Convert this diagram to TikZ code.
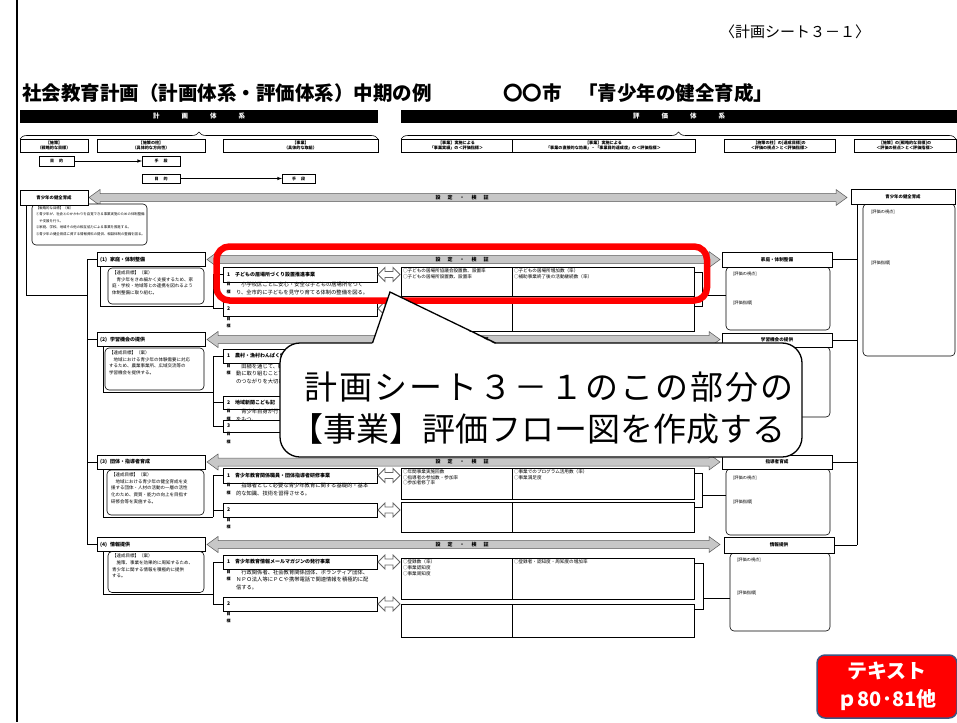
\documentclass[tikz,border=0pt]{standalone}
\usepackage{fontspec}
\setmainfont{Noto Sans CJK JP}
\newfontfamily\cfont[LetterSpace=6.5]{Noto Sans CJK JP}
\usetikzlibrary{decorations.pathreplacing}
\newcommand\fs[2]{\fontsize{#1}{#2}\selectfont}
\tikzset{
  every node/.style={inner sep=0pt,outer sep=0pt},
  bx/.style={draw,line width=0.6pt,fill=white,anchor=north west},
  rbx/.style={draw,line width=0.6pt,fill=white,anchor=north west,rounded corners=4pt},
  ln/.style={line width=0.6pt},
  garrow/.style={draw=black!65,fill=black!22,line width=0.5pt},
  harrow/.style={draw=black!60,fill=white,line width=0.8pt},
  lab/.style={anchor=north west,align=left},
  hdr/.style={bx,align=center,font=\bfseries\fs{4.1}{5}},
}
\newcommand\gbar[4]{% name x1 x2 y
  \draw[garrow] (#2,#4) -- ({#2+11},{#4-8}) -- ({#2+11},{#4-4}) -- ({#3-11},{#4-4}) -- ({#3-11},{#4-8}) -- (#3,#4) -- ({#3-11},{#4+8}) -- ({#3-11},{#4+4}) -- ({#2+11},{#4+4}) -- ({#2+11},{#4+8}) -- cycle;
  \node[font=\bfseries\fs{5}{6}] (#1) at (462,#4) {設\hspace{7pt}定\hspace{7pt}・\hspace{7pt}検\hspace{7pt}証};}
\newcommand\darr[1]{%
  \draw[harrow] (378,#1) -- (385,{#1-7}) -- (385,{#1-3}) -- (393,{#1-3}) -- (393,{#1-7}) -- (400,#1) -- (393,{#1+7}) -- (393,{#1+3}) -- (385,{#1+3}) -- (385,{#1+7}) -- cycle;}
\newcommand\evalrow[5]{% name top height left right
  \node[bx,minimum width=293,minimum height=#3] (#1) at (401,#2) {};
  \draw[ln] (512,#2) -- (512,{#2+#3});
  \node[lab,font=\fs{4.6}{5.8}] (#1l) at (403,{#2+1.5}) {#4};
  \node[lab,font=\fs{4.6}{5.8}] (#1r) at (514,{#2+1.5}) {#5};}
\newcommand\biz[5]{% name top height num title
  \node[bx,minimum width=154,minimum height=#3] (#1) at (223,#2) {};
  \node[anchor=west,font=\bfseries\fs{5}{6}] (#1t) at ([xshift=4pt]#1.west) {#4\hspace{5pt}#5};}
\newcommand\goal[3]{% name top text
  \node[anchor=north west,align=center,font=\bfseries\fs{4}{7.5}] (#1m) at (226.5,#2) {目\\標};
  \node[lab,font=\fs{5.3}{7.5}] (#1g) at (236,{#2-0.3}) {#3};}
\begin{document}
\begin{tikzpicture}[x=1pt,y=-1pt]
\useasboundingbox (0,0) rectangle (957,722);
\fill[white] (0,0) rectangle (957,722);
\draw[line width=2.5pt] (17,0) -- (17,722);

% ---------- title area
\node[font=\fs{15}{18}] (sheet) at (795,32) {〈計画シート３－１〉};
\node[anchor=west,font=\bfseries\fs{19.5}{22}] (title) at (22,93) {社会教育計画（計画体系・評価体系）中期の例};
\node[anchor=west,font=\bfseries\fs{19.5}{22}] (city) at (503,93) {〇〇市};
\node[anchor=west,font=\bfseries\fs{19.5}{22}] (theme) at (578,93) {「青少年の健全育成」};

\node[fill=black,minimum width=358,minimum height=13,anchor=north west,text=white,font=\bfseries\fs{6.5}{8}] (plan) at (20,110) {計\hspace{22pt}画\hspace{22pt}体\hspace{22pt}系};
\node[fill=black,minimum width=556,minimum height=13,anchor=north west,text=white,font=\bfseries\fs{6.5}{8}] (eval) at (401,110) {評\hspace{22pt}価\hspace{22pt}体\hspace{22pt}系};
\draw[ln,decorate,decoration={brace,amplitude=7pt}] (20,139) -- (378,139);
\draw[ln,decorate,decoration={brace,amplitude=7pt}] (401,139) -- (956,139);

\node[hdr,minimum width=68,minimum height=13] (h1) at (20,139) {【施策】\\（戦略的な目標）};
\node[hdr,minimum width=108,minimum height=13] (h2) at (97,139) {【施策の柱】\\（具体的な方向性）};
\node[hdr,minimum width=155,minimum height=13] (h3) at (223,139) {【事業】\\（具体的な取組）};
\node[hdr,minimum width=111,minimum height=13] (h4) at (401,139) {【事業】実施による\\「事業実績」の＜評価指標＞};
\node[hdr,minimum width=183,minimum height=13] (h5) at (512,139) {【事業】実施による\\「事業の直接的な効果」・「事業目的達成度」の＜評価指標＞};
\node[hdr,minimum width=111,minimum height=13] (h6) at (724,139) {【施策の柱】の[達成目標]の\\＜評価の視点＞と＜評価指標＞};
\node[hdr,minimum width=102,minimum height=13] (h7) at (854,139) {【施策】の[戦略的な目標]の\\＜評価の視点＞と＜評価指標＞};

\node[bx,minimum width=35,minimum height=10,font=\bfseries\fs{4}{5}] (m1) at (39,156) {目\hspace{5pt}的};
\node[bx,minimum width=38,minimum height=10,font=\bfseries\fs{4}{5}] (s1x) at (142,156) {手\hspace{5pt}段};
\node[bx,minimum width=38,minimum height=9,font=\bfseries\fs{4}{5}] (m2) at (142,174) {目\hspace{5pt}的};
\node[bx,minimum width=33,minimum height=9,font=\bfseries\fs{4}{5}] (s2x) at (282,174) {手\hspace{5pt}段};
\draw[ln,-latex] (m1) -- (s1x);
\draw[ln,-latex] (m2) -- (s2x);

% ---------- top level
\coordinate (lv) at (87,0);
\coordinate (rv) at (857,0);
\coordinate (bv) at (213,0);
\gbar{g0}{89}{847}{197.5}
\node[rbx,minimum width=115,minimum height=41] (L0r) at (32,204) {};
\node[lab,font=\fs{3.4}{6.5}] (L0t) at (36,206.5) {【戦略的な目標】（案）\\①青少年が、社会とのかかわりを自覚できる事業実施のための体制整備\\　や支援を行う。\\②家庭、学校、地域その他の相互協力による事業を推進する。\\③青少年の健全育成に資する情報資料の提供、相談体制の整備を図る。};
\node[bx,minimum width=68,minimum height=15,font=\bfseries\fs{4.4}{5}] (L0) at (20,190) {青少年の健全育成};
\node[rbx,minimum width=92,minimum height=152] (R0r) at (863,204) {};
\node[lab,font=\fs{4.2}{5}] at (871,210) {[評価の視点]};
\node[lab,font=\fs{4.2}{5}] at (871,261) {[評価指標]};
\node[bx,minimum width=104,minimum height=15,font=\bfseries\fs{4.4}{5}] (R0) at (851,189) {青少年の健全育成};
\draw[ln] ([xshift=6pt]L0.south west) |- (87,295);
\draw[ln] (87,259) -- (87,544.5);
\draw[ln] (R0.south -| rv) -- (857,545);

% ---------- section 1
\gbar{g1}{207}{720}{259.5}
\node[bx,minimum width=108,minimum height=14] (s1) at (97,252.5) {};
\node[anchor=west,font=\bfseries\fs{5}{6}] (s1t) at ([xshift=3pt]s1.west) {(1)\hspace{3pt}家庭・体制整備};
\node[rbx,minimum width=96,minimum height=36] (s1r) at (108,268) {};
\node[lab,font=\fs{4.5}{6.7}] (s1rt) at (112,270.5) {【達成目標】（案）\\　青少年をきめ細かく支援するため、家\\庭・学校・地域等との連携を図れるよう\\体制整備に取り組む。};
\node[rbx,minimum width=104,minimum height=63] (r1r) at (726,267) {};
\node[lab,font=\fs{4.2}{5}] at (733,272) {[評価の視点]};
\node[lab,font=\fs{4.2}{5}] at (733,301) {[評価指標]};
\node[bx,minimum width=110,minimum height=15,font=\bfseries\fs{4.6}{5}] (r1) at (722,252) {家庭・体制整備};
\biz{b11}{267}{15}{1}{子どもの居場所づくり設置推進事業}
\goal{b11}{282.5}{　小学校区ごとに安心・安全な子どもの居場所をつく\\り、全市的に子どもを見守り育てる体制の整備を図る。}
\biz{b12}{301}{15}{2}{}
\goal{b12}{317}{}
\darr{274.5}\darr{308.5}
\evalrow{e11}{267}{29}{○子どもの居場所協議会設置数、設置率\\○子どもの居場所設置数、設置率}{○子どもの居場所増加数（率）\\○補助事業終了後の活動継続数（率）}
\evalrow{e12}{301}{30}{}{}
\draw[ln] (s1.south west) ++(3,0) |- (213,306);
\draw[ln] (b11.west -| bv) -- (b12.west -| bv);
\draw[ln] (b11.west -| bv) -- (b11.west);
\draw[ln] (b12.west -| bv) -- (b12.west);
\draw[ln] ([yshift=-5pt]e11.north east) -- ++(8,0) |- ([yshift=-5pt]e12.north east);
\draw[ln] (702,295) -- (726,295);
\draw[ln] (r1.east) -- (r1.east -| rv);
\draw[ln] (s1.west -| lv) -- (s1.west);

% ---------- section 2
\gbar{g2}{207}{720}{339.5}
\node[bx,minimum width=108,minimum height=14] (s2) at (97,332.5) {};
\node[anchor=west,font=\bfseries\fs{5}{6}] (s2t) at ([xshift=3pt]s2.west) {(2)\hspace{3pt}学習機会の提供};
\node[rbx,minimum width=99,minimum height=42] (s2r) at (105,348) {};
\node[lab,font=\fs{4.5}{6.7}] (s2rt) at (109,350.5) {【達成目標】（案）\\　地域における青少年の体験需要に対応\\するため、農業事業所、広域交流等の\\学習機会を提供する。};
\node[rbx,minimum width=104,minimum height=70] (r2r) at (726,347) {};
\node[bx,minimum width=110,minimum height=14,font=\bfseries\fs{4.6}{5}] (r2) at (722,333) {学習機会の提供};
\biz{b21}{349}{14}{1}{農村・漁村わんぱく体}
\goal{b21}{364}{　田植を通じて、観\\動に取り組むことで\\のつながりを大切に}
\biz{b22}{396}{13}{2}{地域新聞こども記}
\goal{b22}{409.5}{　青少年自身が行う\\をもつ。}
\biz{b23}{420}{12}{3}{}
\goal{b23}{432.5}{}
\evalrow{e21}{349}{42}{}{}
\evalrow{e22}{396}{22}{}{}
\evalrow{e23}{420}{28}{}{}
\draw[ln] (s2.south west) ++(6,0) |- (213,392);
\draw[ln] (b21.west -| bv) -- (b23.west -| bv);
\draw[ln] (b21.west -| bv) -- (b21.west);
\draw[ln] (b22.west -| bv) -- (b22.west);
\draw[ln] (b23.west -| bv) -- (b23.west);
\draw[ln] (r2.east) -- (r2.east -| rv);
\draw[ln] (s2.west -| lv) -- (s2.west);

% ---------- section 3
\gbar{g3}{207}{720}{462}
\node[bx,minimum width=108,minimum height=14] (s3) at (97,455) {};
\node[anchor=west,font=\bfseries\fs{5}{6}] (s3t) at ([xshift=3pt]s3.west) {(3)\hspace{3pt}団体・指導者育成};
\node[rbx,minimum width=97,minimum height=45] (s3r) at (107,470) {};
\node[lab,font=\fs{4.5}{6.7}] (s3rt) at (111,472.5) {【達成目標】（案）\\　地域における青少年の健全育成を支\\援する団体・人材の活動の一層の活性\\化のため、資質・能力の向上を目指す\\研修会等を実施する。};
\node[rbx,minimum width=104,minimum height=66] (r3r) at (726,469) {};
\node[lab,font=\fs{4.2}{5}] at (733,476) {[評価の視点]};
\node[lab,font=\fs{4.2}{5}] at (733,500) {[評価指標]};
\node[bx,minimum width=110,minimum height=14,font=\bfseries\fs{4.6}{5}] (r3) at (722,455) {指導者育成};
\biz{b31}{468}{15}{1}{青少年教育関係職員・団体指導者研修事業}
\goal{b31}{483.5}{　指導者として必要な青少年教育に関する基礎的・基本\\的な知識、技術を習得させる。}
\biz{b32}{503}{14}{2}{}
\goal{b32}{518}{}
\darr{475.5}\darr{510}
\evalrow{e31}{468}{31}{○年間事業実施回数\\○指導者の参加数・参加率\\○参加者修了率}{○事業でのプログラム活用数（率）\\○事業満足度}
\evalrow{e32}{502}{30}{}{}
\draw[ln] (s3.south west) ++(6,0) |- (213,517);
\draw[ln] (b31.west -| bv) -- (213,517);
\draw[ln] (b31.west -| bv) -- (b31.west);
\draw[ln] (b32.west -| bv) -- (b32.west);
\draw[ln] ([yshift=-5pt]e31.north east) -- ++(8,0) |- ([yshift=-5pt]e32.north east);
\draw[ln] (702,495) -- (726,495);
\draw[ln] (r3.east) -- (r3.east -| rv);
\draw[ln] (s3.west -| lv) -- (s3.west);

% ---------- section 4
\gbar{g4}{207}{720}{544.5}
\node[bx,minimum width=108,minimum height=14] (s4) at (97,537.5) {};
\node[anchor=west,font=\bfseries\fs{5}{6}] (s4t) at ([xshift=3pt]s4.west) {(4)\hspace{3pt}情報提供};
\node[rbx,minimum width=96,minimum height=41] (s4r) at (108,551.5) {};
\node[lab,font=\fs{4.5}{6.7}] (s4rt) at (112,554) {【達成目標】（案）\\　施策、事業を効果的に周知するため、\\青少年に関する情報を積極的に提供\\する。};
\node[rbx,minimum width=100,minimum height=78] (r4r) at (730,553) {};
\node[lab,font=\fs{4.2}{5}] at (737,558) {[評価の視点]};
\node[lab,font=\fs{4.2}{5}] at (737,591) {[評価指標]};
\node[bx,minimum width=110,minimum height=16,font=\bfseries\fs{4.6}{5}] (r4) at (724,537) {情報提供};
\biz{b41}{555}{14}{1}{青少年教育情報メールマガジンの発行事業}
\goal{b41}{570}{　行政関係者、社会教育関係団体、ボランティア団体、\\ＮＰＯ法人等にＰＣや携帯電話で関連情報を積極的に配\\信する。}
\biz{b42}{597}{14}{2}{}
\goal{b42}{612}{}
\darr{562}\darr{604}
\evalrow{e41}{558}{41}{○登録数（率）\\○事業認知度\\○事業周知度}{○登録者・認知度・周知度の増加率}
\evalrow{e42}{604}{33}{}{}
\draw[ln] (s4.south west) ++(6,0) |- (213,594);
\draw[ln] (b41.west -| bv) -- (b42.west -| bv);
\draw[ln] (b41.west -| bv) -- (b41.west);
\draw[ln] (b42.west -| bv) -- (b42.west);
\draw[ln] ([yshift=-5pt]e41.north east) -- ++(9,0) |- ([yshift=-5pt]e42.north east);
\draw[ln] (703,598) -- (730,598);
\draw[ln] (r4.east) -- (r4.east -| rv);
\draw[ln] (s4.west -| lv) -- (s4.west);

% ---------- highlight and callout
\draw[red,line width=6.5pt,rounded corners=13pt] (216.5,246.5) rectangle (707,300.5);
\node[draw,line width=1.3pt,fill=white,rounded corners=20pt,minimum width=522,minimum height=114,anchor=north west] (call) at (280,343) {};
\fill[white] (372,344.6) -- (390,292) -- (496,344.6) -- cycle;
\draw[line width=1.3pt] (372.5,343) -- (390,292) -- (495.5,343);
\node[font=\cfont\fs{33}{40}] (c1) at (549,387) {計画シート３－１のこの部分の};
\node[font=\fs{33}{40}] (c2) at (538,429) {【事業】評価フロー図を作成する};

% ---------- text badge
\node[draw={rgb,255:red,60;green,85;blue,130},line width=1.5pt,fill=red,rounded corners=8pt,minimum width=140,minimum height=63,anchor=north west,text=white,align=center,font=\bfseries\fs{20}{28}] (badge) at (817,655) {テキスト\\ｐ80･81他};
\end{tikzpicture}
\end{document}
